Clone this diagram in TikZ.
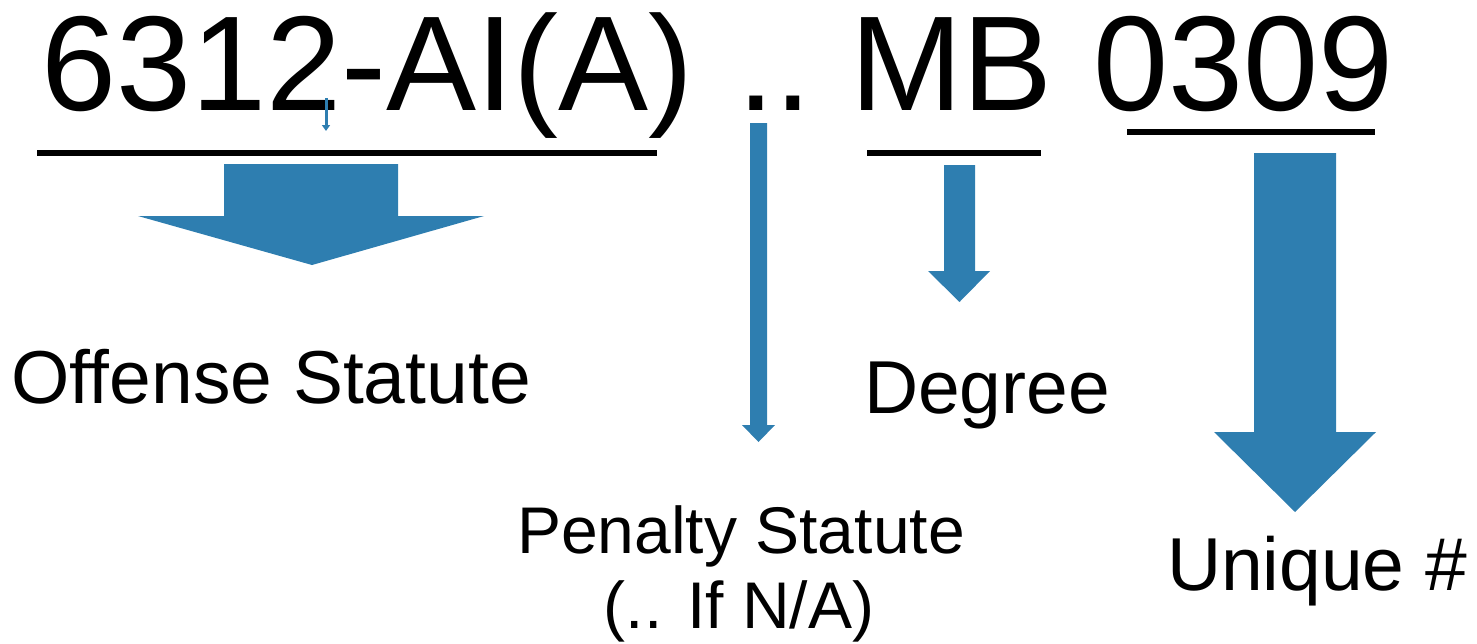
\documentclass[tikz,border=0pt]{standalone}
\usepackage{fontspec}
\setmainfont{Liberation Sans}
\usetikzlibrary{arrows.meta}
\definecolor{arrowblue}{RGB}{46,126,176}
\begin{document}
\begin{tikzpicture}[x=1pt,y=-1pt,
  bigtext/.style={inner sep=0pt,outer sep=0pt,anchor=base west,font=\fontsize{135}{135}\selectfont},
  labeltext/.style={inner sep=0pt,outer sep=0pt,font=\fontsize{75}{75}\selectfont},
  uline/.style={line width=6pt,black},
  blockarrow/.style={fill=arrowblue,draw=none}]
\useasboundingbox (0,0) rectangle (1477,643);
% title
\node[bigtext] (code) at (41,110) {6312-AI(A)};
\node[bigtext] (dots) at (737,110) {..};
\node[bigtext] (mb) at (850,110) {MB};
\node[bigtext] (num) at (1093,110) {0309};
% underlines
\draw[uline] (37,153) -- (657,153);
\draw[uline] (867,153) -- (1041,153);
\draw[uline] (1127,132) -- (1375,132);
% small arrow under 2
\coordinate (sa) at (326,98);
\coordinate (sb) at (326,131);
\draw[arrowblue,line width=3pt,-{Triangle[width=8pt,length=6pt]}] (sa) -- (sb);
% offense arrow
\fill[blockarrow] (224,164) -- (398,164) -- (398,216) -- (484,216) -- (312,265) -- (138,216) -- (224,216) -- cycle;
% penalty arrow
\fill[blockarrow] (750,123) -- (767,123) -- (767,425) -- (775,425) -- (758.5,442) -- (742,425) -- (750,425) -- cycle;
% degree arrow
\fill[blockarrow] (944,165) -- (975,165) -- (975,271) -- (990,271) -- (959.5,302) -- (928,271) -- (944,271) -- cycle;
% unique arrow
\fill[blockarrow] (1254,153) -- (1336,153) -- (1336,432) -- (1376,432) -- (1295,512) -- (1214,432) -- (1254,432) -- cycle;
% labels
\node[labeltext,anchor=base west] (off) at (11,403) {Offense Statute};
\node[labeltext,anchor=base,font=\fontsize{66}{66}\selectfont] (pen1) at (741,553) {Penalty Statute};
\node[labeltext,anchor=base,font=\fontsize{66}{66}\selectfont] (pen2) at (739,628) {(.. If N/A)};
\node[labeltext,anchor=base west] (deg) at (864,413) {Degree};
\node[labeltext,anchor=base west] (uni) at (1167,590) {Unique \#};
\end{tikzpicture}
\end{document}
